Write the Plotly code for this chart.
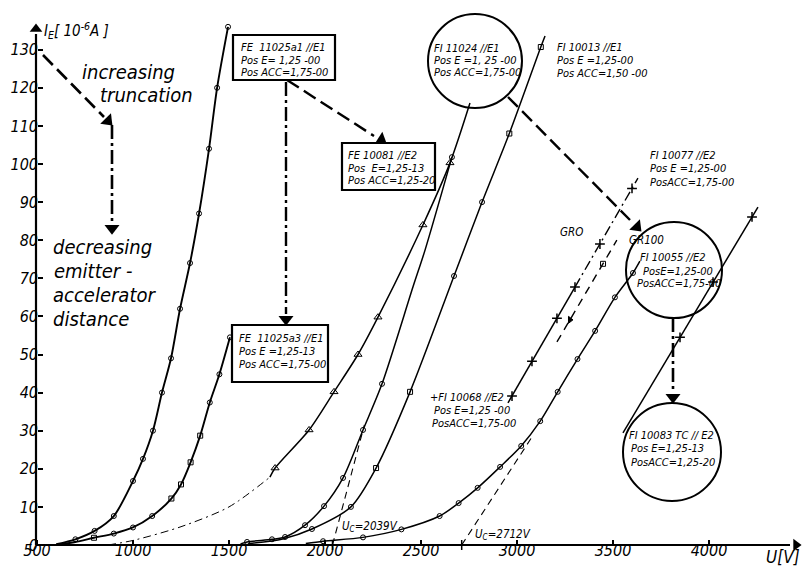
import math
import plotly.graph_objects as go

# ---------------- data ----------------
x_ticks = [500, 1000, 1500, 2000, 2500, 3000, 3500, 4000]
y_ticks = [0, 10, 20, 30, 40, 50, 60, 70, 80, 90, 100, 110, 120, 130]

# FE 11025a1 //E1
c1_V = [600, 700, 800, 900, 1000, 1052, 1104, 1151, 1198, 1245, 1297, 1344, 1396, 1438, 1495]
c1_I = [0.2, 1.5, 3.7, 7.6, 16.8, 22.6, 30.0, 40.0, 49.0, 62.0, 74.0, 87.0, 104.0, 120.0, 136.0]
# FE 11025a3 //E1
c2_V = [620, 700, 797, 900, 1000, 1100, 1200, 1250, 1300, 1350, 1400, 1450, 1505]
c2_I = [0.2, 0.8, 1.9, 3.0, 4.6, 7.6, 12.2, 15.9, 21.7, 28.7, 37.4, 44.8, 54.5]
c2_sq_V = [797, 1200, 1250, 1300, 1350]
c2_sq_I = [1.9, 12.2, 15.9, 21.7, 28.7]
c2_ci_V = [900, 1000, 1100, 1400, 1450, 1505]
c2_ci_I = [3.0, 4.6, 7.6, 37.4, 44.8, 54.5]
# triangle curve (FE 10081 //E2) with dash-dot extrapolation
c3x_V = [870, 1000, 1250, 1500, 1713]
c3x_I = [0.0, 1.2, 4.8, 10.0, 17.8]
c3_V = [1713, 1740, 1917, 2047, 2172, 2276, 2510, 2651, 2755]
c3_I = [17.8, 20.2, 30.2, 40.2, 50.0, 59.8, 84.0, 100.3, 116.0]
c3_tri_V = [1740, 1917, 2047, 2172, 2276, 2510, 2651]
c3_tri_I = [20.2, 30.2, 40.2, 50.0, 59.8, 84.0, 100.3]
# circle curve with tangent Uc = 2039 V
cB_V = [1560, 1594, 1724, 1792, 1896, 1995, 2094, 2198, 2297, 2458, 2521, 2661]
cB_I = [0.3, 0.8, 1.5, 2.1, 5.2, 10.2, 17.6, 30.2, 42.3, 67.7, 77.4, 101.8]
cB_mk_V = [1594, 1724, 1792, 1896, 1995, 2094, 2198, 2297, 2661]
cB_mk_I = [0.8, 1.5, 2.1, 5.2, 10.2, 17.6, 30.2, 42.3, 101.8]
tB_V = [2039, 2205]
tB_I = [0.0, 31.5]
# FI 10013 //E1
cC_V = [1600, 1780, 1932, 2135, 2266, 2443, 2672, 2818, 2960, 3124, 3146]
cC_I = [0.4, 1.6, 4.2, 10.0, 20.2, 40.2, 70.6, 90.0, 108.0, 130.7, 133.6]
cC_sq_V = [2266, 2443, 2960, 3124]
cC_sq_I = [20.2, 40.2, 108.0, 130.7]
cC_ci_V = [1932, 2135, 2672, 2818]
cC_ci_I = [4.2, 10.0, 70.6, 90.0]
# circle curve with tangent Uc = 2712 V
cE_V = [1900, 1990, 2198, 2398, 2597, 2696, 2795, 2912, 3022, 3121, 3212, 3315, 3407, 3510, 3604, 3640]
cE_I = [0.4, 1.0, 2.0, 4.1, 7.6, 11.0, 15.0, 20.5, 26.0, 32.5, 40.2, 48.8, 56.2, 65.0, 71.4, 74.5]
cE_mk_V = [1990, 2198, 2398, 2597, 2696, 2795, 2912, 3022, 3121, 3212, 3315, 3407, 3510, 3604]
cE_mk_I = [1.0, 2.0, 4.1, 7.6, 11.0, 15.0, 20.5, 26.0, 32.5, 40.2, 48.8, 56.2, 65.0, 71.4]
tE_V = [2712, 3080]
tE_I = [0.0, 28.5]
# GR100 dashed line
gD_V = [3208, 3520]
gD_I = [53.3, 80.0]
gD_tri_V, gD_tri_I = [3276], [59.1]
gD_sq_V, gD_sq_I = [3448], [73.8]
# FI 10068 (solid) / FI 10077 (dash-dot)
gS_V = [2953, 3302]
gS_I = [37.3, 67.7]
gDD_V = [3302, 3630]
gDD_I = [67.7, 96.3]
g_mk_V = [2974, 3078, 3208, 3302, 3432, 3599]
g_mk_I = [39.1, 48.2, 59.5, 67.7, 79.0, 93.6]
# FI 10083TC //E2
f_V = [3552, 4255]
f_I = [29.4, 88.7]
f_mk_V = [3849, 4021, 4224]
f_mk_I = [54.5, 69.0, 86.1]
uc_V = [2039, 2712]
uc_I = [0.0, 0.0]

# ---------------- pixel helpers for decorations ----------------
W, H = 806, 568
X0, SX = 37, 0.192
Y0, SY = 545, 3.81
def V(px): return 500 + (px - X0) / SX
def I(py): return (Y0 - py) / SY

FONT = "DejaVu Sans Condensed, Liberation Sans Narrow, Liberation Sans, sans-serif"
K = "black"

fig = go.Figure()

def line(xs, ys, w=1.6, dash="solid", spline=True):
    fig.add_trace(go.Scatter(x=xs, y=ys, mode="lines",
                             line=dict(color=K, width=w, dash=dash,
                                       shape="spline" if spline else "linear", smoothing=0.8),
                             hoverinfo="skip", showlegend=False))

def marks(xs, ys, sym="circle-open", size=5, lw=1, angle=0):
    fig.add_trace(go.Scatter(x=xs, y=ys, mode="markers",
                             marker=dict(symbol=sym, size=size, color=K, angle=angle,
                                         line=dict(color=K, width=lw)),
                             hoverinfo="skip", showlegend=False))

line(c1_V, c1_I, 1.9); marks(c1_V[1:], c1_I[1:])
line(c2_V, c2_I, 1.9); marks(c2_sq_V, c2_sq_I, "square-open"); marks(c2_ci_V, c2_ci_I)
line(c3x_V, c3x_I, 1.0, "8px,4px,2px,4px")
line(c3_V, c3_I, 1.5); marks(c3_tri_V, c3_tri_I, "triangle-up-open", 7)
line(cB_V, cB_I, 1.5); marks(cB_mk_V, cB_mk_I)
line(tB_V, tB_I, 1.1, "7px,5px", False)
line(cC_V, cC_I, 1.5); marks(cC_sq_V, cC_sq_I, "square-open"); marks(cC_ci_V, cC_ci_I)
line(cE_V, cE_I, 1.5); marks(cE_mk_V, cE_mk_I)
line(tE_V, tE_I, 1.1, "7px,5px", False)
line(gD_V, gD_I, 1.4, "8px,6px", False)
marks(gD_tri_V, gD_tri_I, "triangle-right", 6)
marks(gD_sq_V, gD_sq_I, "square-open", 5)
line(gS_V, gS_I, 1.5, spline=False)
line(gDD_V, gDD_I, 1.4, "10px,4px,2px,4px", False)
marks(g_mk_V, g_mk_I, "cross-thin", 7, 1.5)
line(f_V, f_I, 1.5, spline=False)
marks(f_mk_V, f_mk_I, "cross-thin", 7, 1.5)
marks(uc_V, uc_I, "cross-thin", 7, 1.5)

shapes = []
ann = []

def seg(p, q, w=2.4, dash="solid"):
    shapes.append(dict(type="line", xref="x", yref="y", x0=V(p[0]), y0=I(p[1]),
                       x1=V(q[0]), y1=I(q[1]), line=dict(color=K, width=w, dash=dash)))

def head(tip, frm, size=12):
    dx, dy = tip[0] - frm[0], tip[1] - frm[1]
    n = math.hypot(dx, dy)
    ang = math.degrees(math.atan2(dx, -dy))
    cx = tip[0] - dx / n * size * 0.45
    cy = tip[1] - dy / n * size * 0.45
    marks([V(cx)], [I(cy)], "triangle-up", size, 0, ang)

def box(x0, y0, x1, y1):
    shapes.append(dict(type="rect", xref="x", yref="y", x0=V(x0), y0=I(y1), x1=V(x1), y1=I(y0),
                       line=dict(color=K, width=2.2), fillcolor="white", layer="above"))

def circ(cx, cy, r):
    shapes.append(dict(type="circle", xref="x", yref="y", x0=V(cx - r), x1=V(cx + r),
                       y0=I(cy + r), y1=I(cy - r), line=dict(color=K, width=2)))

def txt(px, py, s, size=11, anchor="left"):
    ann.append(dict(x=V(px), y=I(py), xref="x", yref="y", text=s, showarrow=False,
                    xanchor=anchor, yanchor="middle",
                    font=dict(family=FONT, size=size, color=K, style="italic")))

# axes drawn as arrows
seg((36, 545), (36, 34), 2.2)
head((36, 24), (36, 40), 11)
seg((36, 545), (790, 545), 2.2)
head((801, 545), (785, 545), 11)

# arrows
DASH = "14px,6px"
DD = "14px,4px,3px,4px"
seg((43, 55), (104, 117), 2.6, DASH); head((112, 125), (43, 55), 13)
seg((112, 125), (112, 222), 2.6, DD); head((112, 234), (112, 125), 13)
seg((287, 80), (374, 136), 2.4, DASH); head((386, 143), (287, 80), 13)
seg((286, 82), (286, 314), 2.4, DD); head((286, 325), (286, 82), 13)
seg((508, 97), (630, 220), 2.4, DASH); head((641, 231), (508, 97), 13)
seg((673, 318), (673, 392), 2.6, DD); head((673, 403), (673, 318), 13)

# boxes and circles
box(233, 35, 335, 80)
box(342, 143, 435, 190)
box(232, 325, 328, 382)
circ(475, 61, 47)
circ(674, 270, 48)
circ(672, 452, 49)

# texts
txt(239, 47, "FE  11025a1 //E1"); txt(239, 60, "Pos E= 1,25 -00"); txt(239, 72, "Pos ACC=1,75-00")
txt(346, 155, "FE 10081 //E2"); txt(346, 168, "Pos  E=1,25-13"); txt(346, 180, "Pos ACC=1,25-20")
txt(237, 338, "FE  11025a3 //E1"); txt(237, 351, "Pos E =1,25-13"); txt(237, 364, "Pos ACC=1,75-00")
txt(432, 48, "FI 11024 //E1"); txt(432, 60, "Pos E =1, 25 -00"); txt(432, 72, "Pos ACC=1,75-00")
txt(555, 47, "FI 10013 //E1"); txt(555, 60, "Pos E =1,25-00"); txt(555, 73, "Pos ACC=1,50 -00")
txt(648, 155, "FI 10077 //E2"); txt(648, 168, "Pos E =1,25-00"); txt(648, 182, "PosACC=1,75-00")
txt(638, 257, "FI 10055 //E2"); txt(641, 271, "PosE=1,25-00"); txt(635, 283, "PosACC=1,75-00")
txt(428, 397, "+FI 10068 //E2"); txt(432, 410, "Pos E=1,25 -00"); txt(430, 423, "PosACC=1,75-00")
txt(627, 435, "FI 10083 TC // E2"); txt(629, 448, "Pos E=1,25-13"); txt(629, 462, "PosACC=1,25-20")
txt(558, 232, "GRO", 11.5); txt(627, 240, "GR100", 11.5)
txt(340, 526, "U<sub>C</sub>=2039V", 11.5); txt(473, 534, "U<sub>C</sub>=2712V", 11.5)
txt(42, 30, "I<sub>E</sub>[ 10<sup>-6</sup>A ]", 15)
txt(802, 557, "U[V]", 17, "right")
txt(80, 72, "increasing", 20); txt(98, 95, "truncation", 20)
txt(51, 247, "decreasing", 20); txt(52, 271, "emitter -", 20)
txt(51, 295, "accelerator", 20); txt(51, 319, "distance", 20)

axis_common = dict(showgrid=False, zeroline=False, showline=False, ticks="inside",
                   ticklen=5, tickwidth=1.5, tickcolor=K, automargin=False, anchor="free",
                   tickfont=dict(family=FONT, size=16, color=K, style="italic"))

fig.update_layout(
    width=W, height=H,
    margin=dict(l=0, r=0, t=0, b=0),
    paper_bgcolor="white", plot_bgcolor="white",
    xaxis=dict(range=[V(0), V(W)], tickvals=x_ticks, position=(H - Y0) / H,
               ticklabelstandoff=-6,
               ticktext=[str(v) for v in x_ticks], **axis_common),
    yaxis=dict(range=[I(H), I(0)], tickvals=y_ticks, position=X0 / W,
               ticklabelstandoff=-1,
               ticktext=[str(v) for v in y_ticks], **axis_common),
    shapes=shapes, annotations=ann, showlegend=False,
)

fig.write_html("out.html", config={"displayModeBar": False},
               post_script="document.body.style.margin='0';document.body.style.overflow='hidden';")
